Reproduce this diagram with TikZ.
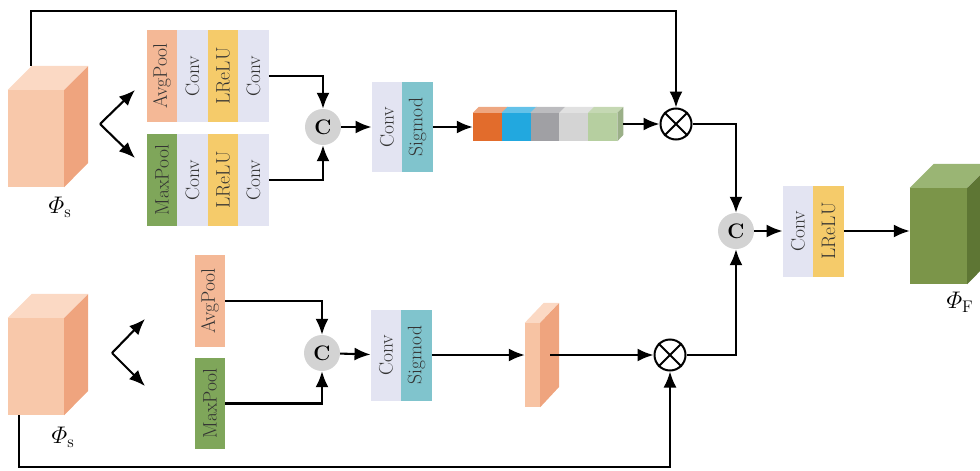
\RequirePackage{fix-cm}
\documentclass[tikz,border=0pt]{standalone}
\usepackage{amsmath}
\usetikzlibrary{arrows.meta}

\definecolor{peachfront}{HTML}{F8C8AA}
\definecolor{peachside}{HTML}{EFA47E}
\definecolor{peachtop}{HTML}{FBD9C4}
\definecolor{greenfront}{HTML}{7B9549}
\definecolor{greenside}{HTML}{5E7634}
\definecolor{greentop}{HTML}{9AB574}
\definecolor{avgcol}{HTML}{F4B896}
\definecolor{convcol}{HTML}{E3E4F2}
\definecolor{lrelucol}{HTML}{F5CB6A}
\definecolor{maxcol}{HTML}{7FA65A}
\definecolor{sigcol}{HTML}{80C4CD}
\definecolor{catcol}{HTML}{D3D3D3}
\definecolor{txtcol}{HTML}{333333}
\definecolor{barA}{HTML}{E26C2C}
\definecolor{barB}{HTML}{22A8DF}
\definecolor{barC}{HTML}{A0A0A4}
\definecolor{barD}{HTML}{D4D4D4}
\definecolor{barE}{HTML}{B6CFA0}

\begin{document}
\begin{tikzpicture}
[x=1pt,y=-1pt,
layer/.style ={rectangle, inner sep=0pt, minimum width=30.5pt,
minimum height=92pt, text=txtcol,
font=\fontsize{19.5}{21}\selectfont},
cat/.style ={circle, fill=catcol, minimum size=36pt, inner sep=0pt,
font=\fontsize{21}{23}\selectfont\bfseries},
mult/.style ={circle, draw, line width=2pt, fill=white,
minimum size=31pt, inner sep=0pt},
face/.style ={rectangle, inner sep=0pt},
line/.style ={draw, line width=2.1pt, -{Latex[length=16pt,width=13pt]}},
lab/.style ={font=\fontsize{24}{26}\selectfont}]
\clip (0,0) rectangle (980,471);

% input cubes
\node [face, fill=peachfront, minimum width=56pt, minimum height=97pt] (inA) at (36,138.5) {};
\fill [peachtop] (inA.north west) -- ++(24,-24) -- ++(56,0) -- (inA.north east) -- cycle;
\fill [peachside] (inA.north east) -- ++(24,-24) -- ++(0,97) -- (inA.south east) -- cycle;
\node [lab] (phiA) at (60,207) {$\varPhi_{\mathrm{s}}$};
\node [face, fill=peachfront, minimum width=56pt, minimum height=97pt] (inB) at (36,366.5) {};
\fill [peachtop] (inB.north west) -- ++(24,-24) -- ++(56,0) -- (inB.north east) -- cycle;
\fill [peachside] (inB.north east) -- ++(24,-24) -- ++(0,97) -- (inB.south east) -- cycle;
\node [lab] (phiB) at (63,437) {$\varPhi_{\mathrm{s}}$};

% output cube
\node [face, fill=greenfront, minimum width=57pt, minimum height=96pt] (out) at (938.5,236) {};
\fill [greentop] (out.north west) -- ++(24,-24) -- ++(57,0) -- (out.north east) -- cycle;
\fill [greenside] (out.north east) -- ++(24,-24) -- ++(0,96) -- (out.south east) -- cycle;
\node [lab] (phiF) at (960,302) {$\varPhi_{\mathrm{F}}$};

% channel branch
\node [layer, fill=avgcol] (avgA) at (162,76) {\rotatebox{90}{AvgPool}};
\node [layer, fill=convcol] (convA) at (192.5,76) {\rotatebox{90}{Conv}};
\node [layer, fill=lrelucol] (reluA) at (223,76) {\rotatebox{90}{LReLU}};
\node [layer, fill=convcol] (convB) at (253.5,76) {\rotatebox{90}{Conv}};
\node [layer, fill=maxcol] (maxA) at (162,180) {\rotatebox{90}{MaxPool}};
\node [layer, fill=convcol] (convC) at (192.5,180) {\rotatebox{90}{Conv}};
\node [layer, fill=lrelucol] (reluB) at (223,180) {\rotatebox{90}{LReLU}};
\node [layer, fill=convcol] (convD) at (253.5,180) {\rotatebox{90}{Conv}};
\node [cat] (catA) at (323,127) {C};
\node [layer, fill=convcol, minimum height=90pt] (convE) at (387,127) {\rotatebox{90}{Conv}};
\node [layer, fill=sigcol, minimum height=90pt] (sigA) at (417.5,127) {\rotatebox{90}{Sigmod}};

% channel weights
\foreach \c/\t [count=\i from 0] in {barA/barA!60!white, barB/barB!70!white,
 barC/barC!70!white, barD/barD!70!white, barE/barE!80!white}
{
\node [face, fill=\c, minimum width=29pt, minimum height=28pt]
 (w\i) at (487.5+28.8*\i,127) {};
\fill [\t] (w\i.north west) -- ++(6,-6) -- ++(29,0) -- (w\i.north east) -- cycle;
}
\fill [barE!85!black] (w4.north east) -- ++(6,-6) -- ++(0,28) -- (w4.south east) -- cycle;
\node [mult] (mulA) at (676,124) {};
\draw [line width=1.8pt] (mulA.45) -- (mulA.225) (mulA.135) -- (mulA.315);

% spatial branch
\node [layer, fill=avgcol] (avgB) at (210,301) {\rotatebox{90}{AvgPool}};
\node [layer, fill=maxcol, minimum height=91pt] (maxB) at (210,403.5) {\rotatebox{90}{MaxPool}};
\node [cat] (catB) at (322,353) {C};
\node [layer, fill=convcol, minimum height=91pt] (convF) at (386,355) {\rotatebox{90}{Conv}};
\node [layer, fill=sigcol, minimum height=91pt] (sigB) at (416.5,355) {\rotatebox{90}{Sigmod}};
\node [face, fill=peachfront!85!peachside, minimum width=15pt, minimum height=84pt] (slab) at (532.5,365) {};
\fill [peachtop] (slab.north west) -- ++(19,-20) -- ++(15,0) -- (slab.north east) -- cycle;
\fill [peachside] (slab.north east) -- ++(19,-20) -- ++(0,84) -- (slab.south east) -- cycle;
\node [mult] (mulB) at (670,355) {};
\draw [line width=1.8pt] (mulB.45) -- (mulB.225) (mulB.135) -- (mulB.315);

% fusion
\node [cat] (catC) at (736,231) {C};
\node [layer, fill=convcol, minimum height=91pt] (convG) at (798,231) {\rotatebox{90}{Conv}};
\node [layer, fill=lrelucol, minimum height=91pt] (reluC) at (828.5,231) {\rotatebox{90}{LReLU}};

% free ends
\coordinate (skipA) at (31,66);
\coordinate (skipB) at (19,415);
\coordinate (forkA) at (100,124);
\coordinate (upA) at (135,90);
\coordinate (downA) at (135,158);
\coordinate (forkB) at (112,353);
\coordinate (upB) at (145,319);
\coordinate (downB) at (145,386);
\coordinate (slabout) at (550,355);

\begin{scope}[every path/.style=line]
\path (forkA) -- (downA);
\path (forkA) -- (upA);
\path (forkB) -- (downB);
\path (forkB) -- (upB);
\path (convB.east) -| (catA);
\path (convD.east) -| (catA);
\path (catA) -- (convE);
\path (sigA) -- (w0);
\path (w4.east) ++(6,-3) -- (mulA);
\path (skipA) |- (676,11) -- (mulA);
\path (mulA) -| (catC);
\path (avgB.east) -| (catB);
\path (maxB.east) -| (catB);
\path (catB) -- (convF);
\path (sigB.east) -- (slab.west |- sigB.east);
\path (slabout) -- (mulB);
\path (skipB) |- (670,467) -- (mulB);
\path (mulB) -| (catC);
\path (catC) -- (convG);
\path (reluC.east) -- (out.west |- reluC.east);
\end{scope}
\end{tikzpicture}
\end{document}
